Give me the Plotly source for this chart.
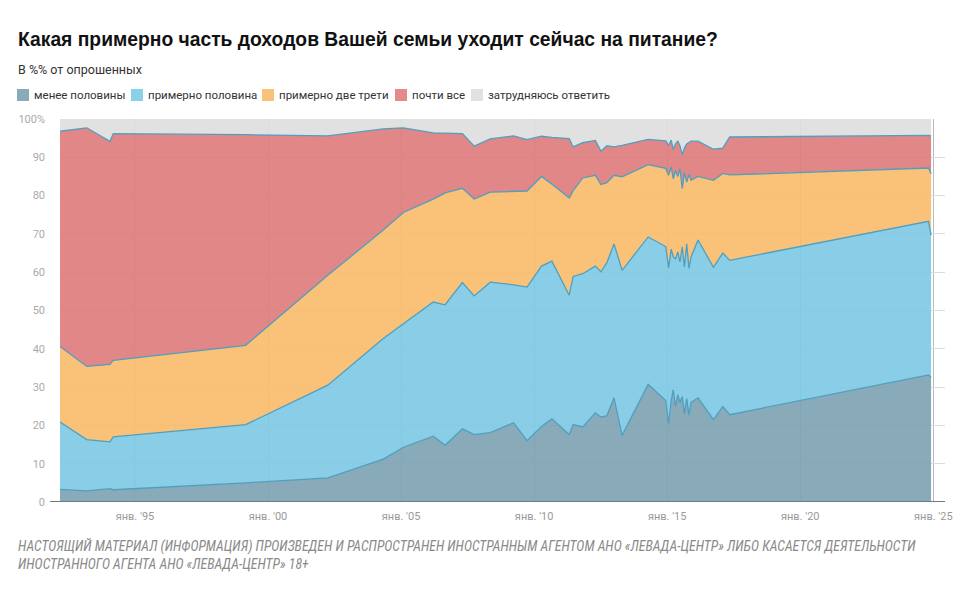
import plotly.graph_objects as go

# ---------------- data ----------------
dates = [
    "1992-03-08", "1993-03-10", "1994-01-22", "1994-03-10", "1999-02-28",
    "2002-04-01", "2004-05-01", "2005-02-01", "2006-03-18", "2006-08-28",
    "2007-04-22", "2007-10-01", "2008-05-08", "2009-03-25", "2009-09-25",
    "2010-04-12", "2010-09-01", "2011-04-27", "2011-06-20", "2011-10-30",
    "2012-04-20", "2012-07-05", "2012-09-25", "2013-01-01", "2013-04-22",
    "2014-04-15", "2014-12-12", "2015-01-20", "2015-02-25", "2015-03-25",
    "2015-04-25", "2015-05-27", "2015-06-25", "2015-07-27", "2015-08-25",
    "2015-09-26", "2015-10-27", "2015-11-25", "2016-02-28", "2016-09-27",
    "2017-02-02", "2017-05-08", "2024-10-27", "2024-12-01",
]

less_than_half = [
    3.3, 2.9, 3.5, 3.2, 5.0, 6.3, 11.2, 14.3, 17.2, 14.8,
    19.1, 17.6, 18.1, 20.7, 16.0, 19.7, 21.7, 17.6, 20.2, 19.6,
    23.3, 22.2, 22.5, 27.2, 17.4, 30.7, 26.5, 20.5, 26.5, 29.3,
    25.0, 28.0, 26.0, 27.5, 23.0, 27.0, 22.7, 26.0, 27.2, 21.5,
    24.9, 22.8, 33.2, 32.5,
]
about_half = [
    17.6, 13.4, 12.2, 13.8, 15.2, 24.2, 31.5, 32.3, 35.0, 36.7,
    38.2, 36.2, 39.3, 36.0, 40.1, 41.9, 41.2, 36.4, 38.7, 40.0,
    38.3, 37.9, 40.0, 40.2, 43.1, 38.5, 40.2, 40.7, 39.5, 34.7,
    38.5, 37.3, 36.7, 39.1, 38.4, 40.4, 38.3, 38.0, 41.2, 39.8,
    40.1, 40.3, 40.1, 37.1,
]
two_thirds = [
    19.7, 19.1, 20.2, 20.0, 20.7, 28.7, 28.3, 29.0, 26.9, 29.2,
    24.6, 25.3, 23.5, 24.5, 25.1, 23.4, 20.1, 25.4, 22.4, 25.0,
    23.7, 22.8, 20.9, 17.9, 24.4, 18.9, 20.4, 24.1, 21.5, 20.4,
    23.0, 19.7, 24.3, 15.2, 24.6, 16.1, 24.5, 20.0, 16.6, 22.7,
    20.8, 22.3, 13.9, 16.1,
]
almost_all = [
    56.2, 62.3, 58.3, 59.2, 55.0, 36.4, 26.4, 22.1, 17.3, 15.6,
    14.3, 13.8, 13.9, 14.4, 13.4, 10.5, 12.2, 15.5, 11.4, 9.2,
    9.1, 8.7, 9.6, 7.4, 8.2, 6.6, 7.2, 7.8, 7.0, 7.7,
    7.0, 9.2, 6.0, 8.9, 6.4, 10.0, 8.3, 10.2, 9.2, 8.1,
    6.6, 9.9, 8.5, 9.9,
]
hard_to_say = [
    3.2, 2.3, 5.8, 3.8, 4.1, 4.4, 2.6, 2.3, 3.6, 3.7,
    3.8, 7.1, 5.2, 4.4, 5.4, 4.5, 4.8, 5.1, 7.3, 6.2,
    5.6, 8.4, 7.0, 7.3, 6.9, 5.3, 5.7, 6.9, 5.5, 7.9,
    6.5, 5.8, 7.0, 9.3, 7.6, 6.5, 6.2, 5.8, 5.8, 7.9,
    7.6, 4.7, 4.3, 4.4,
]

series_names = ["менее половины", "примерно половина", "примерно две трети",
                "почти все", "затрудняюсь ответить"]
series_values = [less_than_half, about_half, two_thirds, almost_all, hard_to_say]

tick_dates = ["1995-01-01", "2000-01-01", "2005-01-01", "2010-01-01",
              "2015-01-01", "2020-01-01", "2025-01-01"]
tick_labels = ["янв. '95", "янв. '00", "янв. '05", "янв. '10",
               "янв. '15", "янв. '20", "янв. '25"]
y_ticks = [0, 10, 20, 30, 40, 50, 60, 70, 80, 90, 100]
y_labels = ["0", "10", "20", "30", "40", "50", "60", "70", "80", "90", "100%"]

# ---------------- style ----------------
fill_colors = ["rgba(124,161,177,0.9)", "rgba(124,201,227,0.9)",
               "rgba(248,187,105,0.9)", "rgba(222,122,122,0.9)",
               "rgba(222,222,222,0.9)"]
swatch_colors = ["#89aab9", "#8ad0e8", "#f9c27a", "#e38a8a", "#e1e1e1"]
line_color = "#4e9fc0"

W, H = 974, 602
L, R, T, B = 60, 29, 119, 100
PW, PH = W - L - R, H - T - B


def px(xp):
    return (xp - L) / PW


def py(yp):
    return (H - B - yp) / PH


fig = go.Figure()
for i, (name, vals) in enumerate(zip(series_names, series_values)):
    fig.add_trace(go.Scatter(
        x=dates, y=vals, name=name, mode="lines",
        stackgroup="one",
        line=dict(color=line_color, width=0 if i == 4 else 1.3),
        fillcolor=fill_colors[i],
        showlegend=False,
        hoverinfo="x+y+name",
    ))

shapes = []
annotations = []

# manual legend
legend_x = [17, 131, 262, 395, 471]
for i, name in enumerate(series_names):
    x0 = legend_x[i]
    shapes.append(dict(type="rect", xref="paper", yref="paper",
                       x0=px(x0), x1=px(x0 + 12), y0=py(101), y1=py(89),
                       fillcolor=swatch_colors[i], line=dict(width=0)))
    annotations.append(dict(xref="paper", yref="paper", x=px(x0 + 15), y=py(95),
                            xanchor="left", yanchor="middle", showarrow=False,
                            text=name,
                            font=dict(family="Roboto, Arial", size=11.5, color="#333")))

# baseline
shapes.append(dict(type="line", xref="paper", yref="y", x0=px(50), x1=1, y0=0, y1=0,
                   line=dict(color="#6f7b80", width=2.2)))

annotations.append(dict(xref="paper", yref="paper", x=px(16), y=py(40),
                        xanchor="left", yanchor="middle", showarrow=False,
                        text="<b>Какая примерно часть доходов Вашей семьи уходит сейчас на питание?</b>",
                        font=dict(family="Liberation Sans, Arial", size=19.3, color="#111")))
annotations.append(dict(xref="paper", yref="paper", x=px(16), y=py(70),
                        xanchor="left", yanchor="middle", showarrow=False,
                        text="В %% от опрошенных",
                        font=dict(family="Roboto, Arial", size=12.5, color="#333")))
annotations.append(dict(xref="paper", yref="paper", x=px(16), y=py(555),
                        xanchor="left", yanchor="middle", showarrow=False, align="left",
                        text="<i>НАСТОЯЩИЙ МАТЕРИАЛ (ИНФОРМАЦИЯ) ПРОИЗВЕДЕН И РАСПРОСТРАНЕН ИНОСТРАННЫМ АГЕНТОМ АНО «ЛЕВАДА-ЦЕНТР» ЛИБО КАСАЕТСЯ ДЕЯТЕЛЬНОСТИ<br>ИНОСТРАННОГО АГЕНТА АНО «ЛЕВАДА-ЦЕНТР» 18+</i>",
                        font=dict(family="Liberation Sans Narrow, Roboto Condensed, Liberation Sans", size=13.8, color="#8a8a8a")))

fig.update_layout(
    width=W, height=H,
    margin=dict(l=L, r=R, t=T, b=B),
    paper_bgcolor="white", plot_bgcolor="white",
    shapes=shapes, annotations=annotations,
    showlegend=False,
    xaxis=dict(
        type="date", range=["1992-03-08", "2025-06-10"],
        tickvals=tick_dates, ticktext=tick_labels,
        showgrid=True, gridcolor="#b5bcc0", gridwidth=1,
        zeroline=False, showline=False, ticks="", automargin=False,
        tickfont=dict(family="Roboto, Arial", size=11, color="#9a9a9a"),
        ticklabelstandoff=6,
    ),
    yaxis=dict(
        range=[0, 100], tickvals=y_ticks, ticktext=y_labels,
        showgrid=True, gridcolor="#dcdcdc", gridwidth=1,
        zeroline=False, showline=False, ticks="", automargin=False,
        tickfont=dict(family="Roboto, Arial", size=11, color="#aaaaaa"),
        ticklabelstandoff=14,
    ),
)

fig.write_html("out.html", config={"displayModeBar": False},
               post_script="document.body.style.margin='0';")
